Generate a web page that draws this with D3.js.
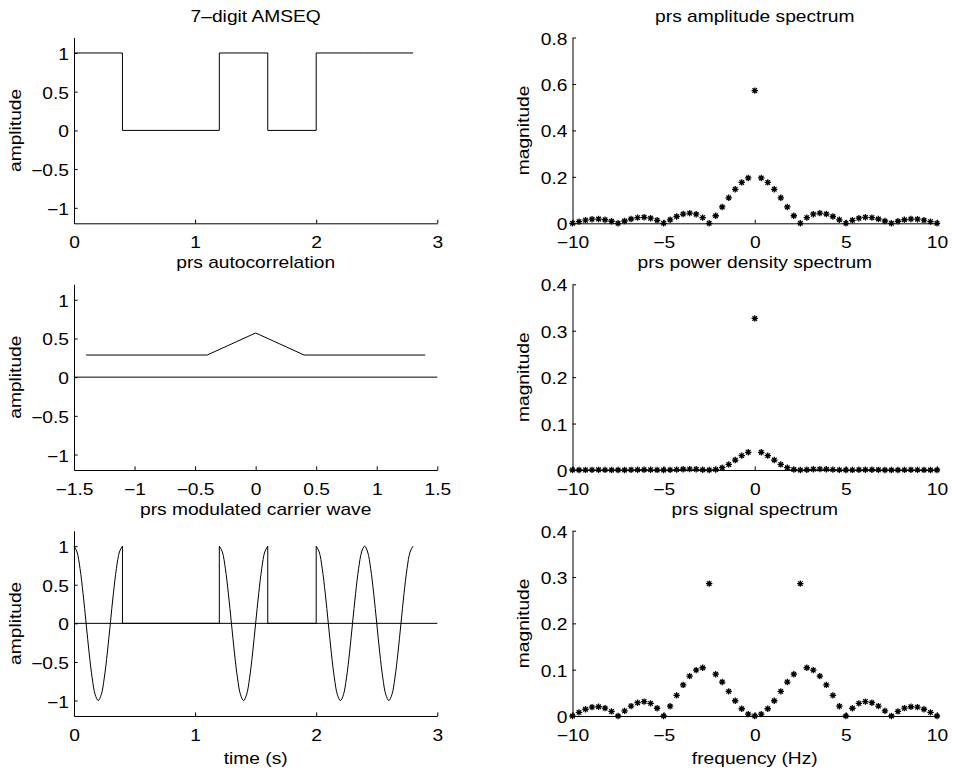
<!DOCTYPE html>
<html>
<head>
<meta charset="utf-8">
<script src="https://cdn.jsdelivr.net/npm/d3@7"></script>
<style>
  body { margin: 0; background: #fff; }
  text { font-family: "Liberation Sans", Arial, Helvetica, sans-serif; font-size: 16px; fill: #000; }
</style>
</head>
<body>
<svg id="chart" width="953" height="770"></svg>
<script>
// --- datos ---

// 7-digit AMSEQ (niveles por chip de 0.4 s)
const amseqTime = [0, 0.4, 0.8, 1.2, 1.6, 2.0, 2.4, 2.8];
const amseqLevel = [1, 0, 0, 1, 0, 1, 1, 1];

// autocorrelacion
const lagTime = [-1.4, -0.4, 0, 0.4, 1.4];
const autocorr = [0.286, 0.286, 0.571, 0.286, 0.286];

// portadora modulada, tramos encendidos
const carrierTime1 = [0, 0.025, 0.05, 0.075, 0.1, 0.125, 0.15, 0.175, 0.2, 0.225, 0.25, 0.275, 0.3, 0.325, 0.35, 0.375, 0.4];
const carrierWave1 = [1, 0.924, 0.707, 0.383, 0, -0.383, -0.707, -0.924, -1, -0.924, -0.707, -0.383, 0, 0.383, 0.707, 0.924, 1];
const carrierTime2 = [1.2, 1.225, 1.25, 1.275, 1.3, 1.325, 1.35, 1.375, 1.4, 1.425, 1.45, 1.475, 1.5, 1.525, 1.55, 1.575, 1.6];
const carrierWave2 = [1, 0.924, 0.707, 0.383, 0, -0.383, -0.707, -0.924, -1, -0.924, -0.707, -0.383, 0, 0.383, 0.707, 0.924, 1];
const carrierTime3 = [2.0, 2.025, 2.05, 2.075, 2.1, 2.125, 2.15, 2.175, 2.2, 2.225, 2.25, 2.275, 2.3, 2.325, 2.35, 2.375, 2.4,
                      2.425, 2.45, 2.475, 2.5, 2.525, 2.55, 2.575, 2.6, 2.625, 2.65, 2.675, 2.7, 2.725, 2.75, 2.775, 2.8];
const carrierWave3 = [1, 0.924, 0.707, 0.383, 0, -0.383, -0.707, -0.924, -1, -0.924, -0.707, -0.383, 0, 0.383, 0.707, 0.924, 1,
                      0.924, 0.707, 0.383, 0, -0.383, -0.707, -0.924, -1, -0.924, -0.707, -0.383, 0, 0.383, 0.707, 0.924, 1];
// tramos apagados (saltos verticales + cero)
const gapTime1 = [0.4, 0.4, 1.2, 1.2];
const gapWave1 = [1, 0, 0, 1];
const gapTime2 = [1.6, 1.6, 2.0, 2.0];
const gapWave2 = [1, 0, 0, 1];

// lineas de cero
const zeroLag = [-1.5, 1.5];
const zeroTime = [0, 3];
const zeroLevel = [0, 0];

// eje de frecuencia (Hz)
const freqHz = [-10, -9.643, -9.286, -8.929, -8.571, -8.214, -7.857, -7.5, -7.143, -6.786, -6.429, -6.071, -5.714, -5.357,
                -5, -4.643, -4.286, -3.929, -3.571, -3.214, -2.857, -2.5, -2.143, -1.786, -1.429, -1.071, -0.714, -0.357,
                0, 0.357, 0.714, 1.071, 1.429, 1.786, 2.143, 2.5, 2.857, 3.214, 3.571, 3.929, 4.286, 4.643,
                5, 5.357, 5.714, 6.071, 6.429, 6.786, 7.143, 7.5, 7.857, 8.214, 8.571, 8.929, 9.286, 9.643, 10];

const amplitudeSpec = [0, 0.0072, 0.0135, 0.0176, 0.0183, 0.0153, 0.0089, 0, 0.0098, 0.0185, 0.0244, 0.0258, 0.0220, 0.0130,
                       0, 0.0150, 0.0293, 0.0399, 0.0439, 0.0391, 0.0244, 0, 0.0326, 0.0704, 0.1097, 0.1463, 0.1760, 0.1953,
                       0.5714, 0.1953, 0.1760, 0.1463, 0.1097, 0.0704, 0.0326, 0, 0.0244, 0.0391, 0.0439, 0.0399, 0.0293, 0.0150,
                       0, 0.0130, 0.0220, 0.0258, 0.0244, 0.0185, 0.0098, 0, 0.0089, 0.0153, 0.0183, 0.0176, 0.0135, 0.0072, 0];

const powerSpec = [0, 0.00005, 0.00018, 0.00031, 0.00034, 0.00023, 0.00008, 0, 0.00010, 0.00034, 0.00059, 0.00067, 0.00048, 0.00017,
                   0, 0.00023, 0.00086, 0.00159, 0.00193, 0.00153, 0.00060, 0, 0.00106, 0.00495, 0.01204, 0.02140, 0.03097, 0.03815,
                   0.3265, 0.03815, 0.03097, 0.02140, 0.01204, 0.00495, 0.00106, 0, 0.00060, 0.00153, 0.00193, 0.00159, 0.00086, 0.00023,
                   0, 0.00017, 0.00048, 0.00067, 0.00059, 0.00034, 0.00010, 0, 0.00008, 0.00023, 0.00034, 0.00031, 0.00018, 0.00005, 0];

const signalSpec = [0, 0.0078, 0.0146, 0.0191, 0.0200, 0.0169, 0.0099, 0, 0.0111, 0.0214, 0.0287, 0.0311, 0.0272, 0.0167,
                    0, 0.0212, 0.0445, 0.0671, 0.0861, 0.0990, 0.1042, 0.2857, 0.0902, 0.0733, 0.0532, 0.0329, 0.0156, 0.0041,
                    0, 0.0041, 0.0156, 0.0329, 0.0532, 0.0733, 0.0902, 0.2857, 0.1042, 0.0990, 0.0861, 0.0671, 0.0445, 0.0212,
                    0, 0.0167, 0.0272, 0.0311, 0.0287, 0.0214, 0.0111, 0, 0.0099, 0.0169, 0.0200, 0.0191, 0.0146, 0.0078, 0];

// ticks
const timeTicks = [0, 1, 2, 3];
const lagTicks = [-1.5, -1, -0.5, 0, 0.5, 1, 1.5];
const ampTicks = [-1, -0.5, 0, 0.5, 1];
const freqTicks = [-10, -5, 0, 5, 10];
const magTicks1 = [0, 0.2, 0.4, 0.6, 0.8];
const magTicks2 = [0, 0.1, 0.2, 0.3, 0.4];

// --- layout ---
const svg = d3.select("#chart");
const cols = [[74, 437.3], [572.5, 937]];
const rows = [[37.5, 223.3], [284.3, 470], [530.7, 716]];
const stretch = 1.2;   // el texto de la figura esta ensanchado
const fmt = d => (d < 0 ? "\u2212" : "") + Math.abs(d);

function label(x, y, str, anchor, rot) {
    svg.append("text")
        .attr("transform", `translate(${x},${y})` + (rot ? " rotate(-90)" : "") + ` scale(${stretch},1)`)
        .attr("text-anchor", anchor)
        .text(str);
}

function panel(col, row, xDomain, yDomain, xTicks, yTicks, title, xLabel, yLabel, yLabelX) {
    const [x0, x1] = cols[col];
    const [y0, y1] = rows[row];
    const x = d3.scaleLinear().domain(xDomain).range([x0, x1]);
    const y = d3.scaleLinear().domain(yDomain).range([y1, y0]);

    const gx = svg.append("g")
        .attr("transform", `translate(0,${y1})`)
        .call(d3.axisBottom(x).tickValues(xTicks).tickFormat(fmt).tickSizeInner(-3.6).tickSizeOuter(0));
    const gy = svg.append("g")
        .attr("transform", `translate(${x0},0)`)
        .call(d3.axisLeft(y).tickValues(yTicks).tickFormat(fmt).tickSizeInner(-3.6).tickSizeOuter(0));

    [gx, gy].forEach(g => {
        g.attr("font-size", null).attr("font-family", null);
        g.selectAll("path, line").attr("stroke", "#000").attr("stroke-width", 1);
    });
    gx.selectAll(".tick text")
        .attr("y", null).attr("dy", null)
        .attr("transform", `translate(0,24.5) scale(${stretch},1)`);
    gy.selectAll(".tick text")
        .attr("x", null).attr("dy", null)
        .attr("transform", `translate(-5,6.5) scale(${stretch},1)`);

    label((x0 + x1) / 2, y0 - 16, title, "middle", false);
    if (xLabel) label((x0 + x1) / 2, y1 + 47.5, xLabel, "middle", false);
    label(yLabelX, (y0 + y1) / 2, yLabel, "middle", true);
    return { x, y };
}

function trace(p, xs, ys, curve) {
    const line = d3.line()
        .x(i => p.x(xs[i]))
        .y(i => p.y(ys[i]))
        .curve(curve || d3.curveLinear);
    svg.append("path")
        .attr("d", line(d3.range(xs.length)))
        .attr("fill", "none")
        .attr("stroke", "#000")
        .attr("stroke-width", 1);
}

function starPath(r) {
    const a = r * 0.7071;
    return `M${-r},0H${r}M0,${-r}V${r}M${-a},${-a}L${a},${a}M${-a},${a}L${a},${-a}`;
}

function stars(p, xs, ys) {
    svg.append("g").selectAll("path")
        .data(d3.range(xs.length))
        .join("path")
        .attr("transform", i => `translate(${p.x(xs[i])},${p.y(ys[i])})`)
        .attr("d", starPath(3.2))
        .attr("fill", "none")
        .attr("stroke", "#000")
        .attr("stroke-width", 1.3);
}

// columna izquierda
const p1 = panel(0, 0, [0, 3], [-1.2, 1.2], timeTicks, ampTicks, "7\u2013digit AMSEQ", null, "amplitude", 21);
trace(p1, amseqTime, amseqLevel, d3.curveStepAfter);

const p2 = panel(0, 1, [-1.5, 1.5], [-1.2, 1.2], lagTicks, ampTicks, "prs autocorrelation", null, "amplitude", 21);
trace(p2, zeroLag, zeroLevel);
trace(p2, lagTime, autocorr);

const p3 = panel(0, 2, [0, 3], [-1.2, 1.2], timeTicks, ampTicks, "prs modulated carrier wave", "time (s)", "amplitude", 21);
trace(p3, zeroTime, zeroLevel);
trace(p3, carrierTime1, carrierWave1, d3.curveCatmullRom);
trace(p3, carrierTime2, carrierWave2, d3.curveCatmullRom);
trace(p3, carrierTime3, carrierWave3, d3.curveCatmullRom);
trace(p3, gapTime1, gapWave1);
trace(p3, gapTime2, gapWave2);

// columna derecha
const p4 = panel(1, 0, [-10, 10], [0, 0.8], freqTicks, magTicks1, "prs amplitude spectrum", null, "magnitude", 528.5);
stars(p4, freqHz, amplitudeSpec);

const p5 = panel(1, 1, [-10, 10], [0, 0.4], freqTicks, magTicks2, "prs power density spectrum", null, "magnitude", 528.5);
stars(p5, freqHz, powerSpec);

const p6 = panel(1, 2, [-10, 10], [0, 0.4], freqTicks, magTicks2, "prs signal spectrum", "frequency (Hz)", "magnitude", 528.5);
stars(p6, freqHz, signalSpec);
</script>
</body>
</html>
